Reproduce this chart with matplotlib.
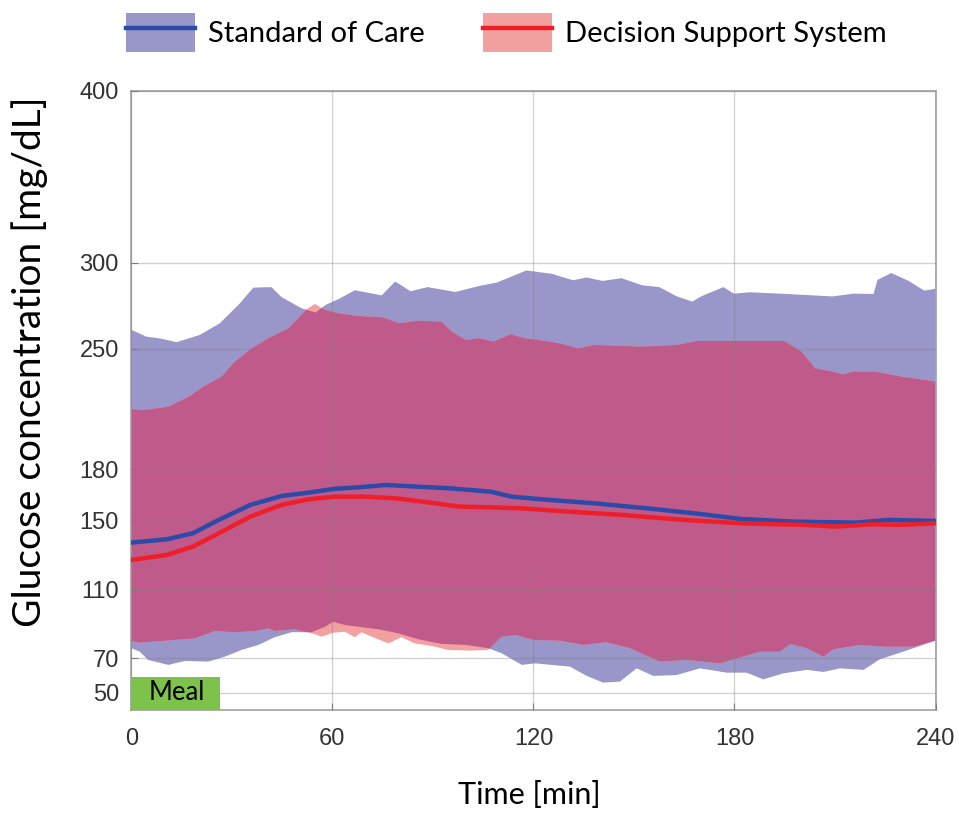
import numpy as np
import matplotlib
matplotlib.use('Agg')
import matplotlib.pyplot as plt
from matplotlib.patches import Patch, Rectangle
from matplotlib.lines import Line2D

# values (time in min, glucose in mg/dL)
soc_up_t = [0, 4.5, 8.5, 13.5, 20.4, 26.4, 32.4, 36.4, 41.8, 44.8, 50.8, 55, 58, 62, 66.7, 74.7, 78.7,
            80.1, 83.3, 88.4, 96.7, 103.9, 109, 117.9, 125.6, 131.8, 135.9, 140.6, 146.3, 152.4,
            157.6, 162.8, 167.4, 170, 176.7, 179.8, 184.5, 193.8, 209.3, 215.5, 221.5, 222.7, 226.8,
            232, 236.6, 240]
soc_up = [261, 257, 256, 253.8, 258, 264.8, 276.4, 285.5, 285.8, 280, 273.5, 271, 275.5, 279, 284, 281,
          289, 287.4, 283.4, 285.8, 283, 286.5, 288.4, 295.5, 293.5, 289.8, 291.4, 289.4, 291, 286.9,
          285.8, 280.4, 277.4, 280.4, 285.8, 282, 282.8, 282, 280.4, 282, 281.8, 290, 294, 289.4,
          283.8, 284.8]

soc_lo_t = [0, 2.5, 5, 11, 16, 22.9, 27.9, 32.9, 37.9, 42.8, 47.8, 53.8, 57.8, 60.2, 63.7, 67.7, 73.7,
            79.6, 85.6, 92.6, 100, 106.5, 110.5, 116.5, 120.4, 130.9, 135.9, 140.8, 145.8, 150.8,
            155.8, 162.7, 169.7, 177.7, 183.6, 188.6, 194.6, 201.6, 206.5, 211.5, 218.5, 223.4,
            230.4, 240]
soc_lo = [75.9, 73.9, 69.1, 66.2, 68.5, 68.1, 71, 74.9, 77.8, 82.3, 85.2, 85.2, 88.4, 91.3, 89.4, 88.4,
          86.9, 84.6, 81.1, 78.4, 77.8, 75.9, 73, 66.2, 67.1, 65.2, 59.8, 55.9, 56.5, 64.2, 59.8,
          60.3, 64.2, 61.7, 61.7, 57.8, 61.3, 63.3, 62.1, 64.2, 63.3, 69.5, 73.9, 80.3]

dss_up_t = [0, 4, 11, 17, 21.9, 26.9, 30.9, 35.9, 40.8, 46.8, 49.8, 52.3, 54.8, 57.8, 61.7, 67.7, 74.7,
            80.1, 85.3, 92.5, 95.6, 99.8, 103.9, 108, 113.2, 117.3, 123.5, 127.7, 133.3, 138, 152.4,
            162.8, 169, 194.8, 200, 204.1, 209.3, 212.4, 215.5, 221.7, 229.9, 240]
dss_up = [214.8, 214.4, 216.3, 222, 228.4, 233.8, 242.5, 250.2, 256, 261.8, 267.7, 273, 276, 272.6,
          270.6, 269, 268.3, 264.8, 266.2, 265.8, 260, 255.1, 256.1, 254.1, 258.4, 256.1, 254.5,
          253.2, 250.2, 252.2, 251.2, 252.2, 254.5, 254.5, 248.3, 238.6, 236.7, 235.1, 236.7, 236.7,
          233.8, 230.9]

dss_lo_t = [0, 2, 13, 19, 24.9, 30.9, 36.9, 40.8, 42.8, 48.8, 53.8, 56.8, 60.2, 63.7, 66.7, 68.7, 71.7,
            76.7, 80.6, 84.6, 89.6, 94.6, 101.6, 106.5, 110.5, 114.5, 120, 127.9, 134.9, 141.8,
            148.8, 157.8, 165.7, 175.7, 180.7, 187.6, 193.6, 196.6, 201.6, 206.5, 209.5, 217.5,
            225.4, 233.4, 240]
dss_lo = [80.3, 79.1, 80.7, 81.7, 85.9, 85.2, 85.9, 87.5, 85.9, 86.9, 84.6, 82.6, 84.9, 85.5, 82.3,
          85.2, 82.6, 78.7, 82.3, 78.7, 77.2, 74.9, 74.5, 74.9, 82.6, 83.6, 80.7, 80.3, 77.8, 79.4,
          75.9, 68.1, 69.1, 67.1, 70, 73.9, 73.9, 78.4, 75.9, 71, 75.3, 77.8, 76.8, 76.8, 80.3]

soc_mean_t = [0, 10.5, 18.3, 26.1, 35.5, 44.8, 52.7, 60.4, 68.2, 76, 85.4, 94.7, 107.2, 113.5, 122.8,
              138.4, 154, 168.1, 182.1, 197.7, 216.4, 225.8, 240]
soc_mean = [137.3, 139.2, 142.7, 150.5, 159.2, 164.4, 166.3, 168.5, 169.5, 170.8, 169.8, 168.9, 166.9,
            164, 162.4, 160.1, 157.2, 154.3, 151, 149.5, 148.9, 150.5, 149.9]

dss_mean_t = [0, 10.5, 18.3, 26.1, 35.5, 44.8, 52.7, 60.4, 69.8, 79.2, 88.5, 97.9, 107.2, 116.6, 130.6,
              146.2, 164.9, 182.1, 200.8, 210.4, 221.4, 229, 240]
dss_mean = [127.2, 130.1, 134.9, 142.7, 152.4, 159.2, 162.4, 164, 164, 163, 160.7, 158.2, 157.8, 157.2,
            155.3, 153.4, 150.5, 148.5, 147.6, 146.6, 148, 147.6, 148.5]

x_ticks = [0, 60, 120, 180, 240]
y_ticks = [50, 70, 110, 150, 180, 250, 300, 400]
labels = ['Standard of Care', 'Decision Support System']

c_soc_fill = '#9996c9'
c_dss_fill = '#f3a0a0'
c_overlap = '#c05a8a'
c_soc_line = '#2b4ba8'
c_dss_line = '#ee1f28'

fig = plt.figure(figsize=(9.59, 8.14), dpi=100)
ax = fig.add_axes([0.137, 0.1278, 0.8385, 0.7608])

# bands as closed polygons: upper edge forward, lower edge back
soc_poly = ax.fill(np.r_[soc_up_t, soc_lo_t[::-1]], np.r_[soc_up, soc_lo[::-1]],
                   color=c_soc_fill, lw=0, zorder=1)[0]
ax.fill(np.r_[dss_up_t, dss_lo_t[::-1]], np.r_[dss_up, dss_lo[::-1]],
        color=c_dss_fill, lw=0, zorder=1.1)
# overlap of both bands: DSS band again, clipped to the SOC band
over = ax.fill(np.r_[dss_up_t, dss_lo_t[::-1]], np.r_[dss_up, dss_lo[::-1]],
               color=c_overlap, lw=0, zorder=1.2)[0]
over.set_clip_path(soc_poly)

ax.plot(soc_mean_t, soc_mean, color=c_soc_line, lw=3.2, zorder=3)
ax.plot(dss_mean_t, dss_mean, color=c_dss_line, lw=3.2, zorder=3.1)

ax.add_patch(Rectangle((0, 40), 26.4, 19, facecolor='#7dc24b', edgecolor='none', zorder=4))
ax.text(5, 50.3, 'Meal', fontsize=18.5, family='Lato', va='center', ha='left', color='black', zorder=5)

ax.set_xlim(0, 240)
ax.set_ylim(40, 400)
ax.set_xticks(x_ticks)
ax.set_yticks(y_ticks)
ax.grid(True, color='#808080', alpha=0.35, lw=1)
ax.set_axisbelow(False)
for s in ax.spines.values():
    s.set_color('#a0a0a0')
    s.set_linewidth(1.2)
ax.tick_params(direction='in', length=5, color='#808080', labelsize=17, labelcolor='#333333')
ax.tick_params(axis='x', pad=13)
ax.tick_params(axis='y', pad=9)
for lab in ax.get_xticklabels() + ax.get_yticklabels():
    lab.set_family('Liberation Sans')

fig.text(0.031, 0.555, 'Glucose concentration [mg/dL]', rotation=90, ha='center', va='center',
         fontsize=28, family='Lato', color='black')
fig.text(0.552, 0.023, 'Time [min]', ha='center', va='center', fontsize=22, family='Lato', color='black')

handles = [(Patch(facecolor=c_soc_fill, edgecolor='none'), Line2D([], [], color=c_soc_line, lw=3.2)),
           (Patch(facecolor=c_dss_fill, edgecolor='none'), Line2D([], [], color=c_dss_line, lw=3.2))]
fig.legend(handles, labels, loc='upper center', bbox_to_anchor=(0.528, 1.005), ncol=2, frameon=False,
           prop={'family': 'Lato', 'size': 21}, handlelength=2.35, handleheight=1.65,
           handletextpad=0.45, columnspacing=2.0, borderaxespad=0.2)

fig.savefig('out.png', dpi=100)
